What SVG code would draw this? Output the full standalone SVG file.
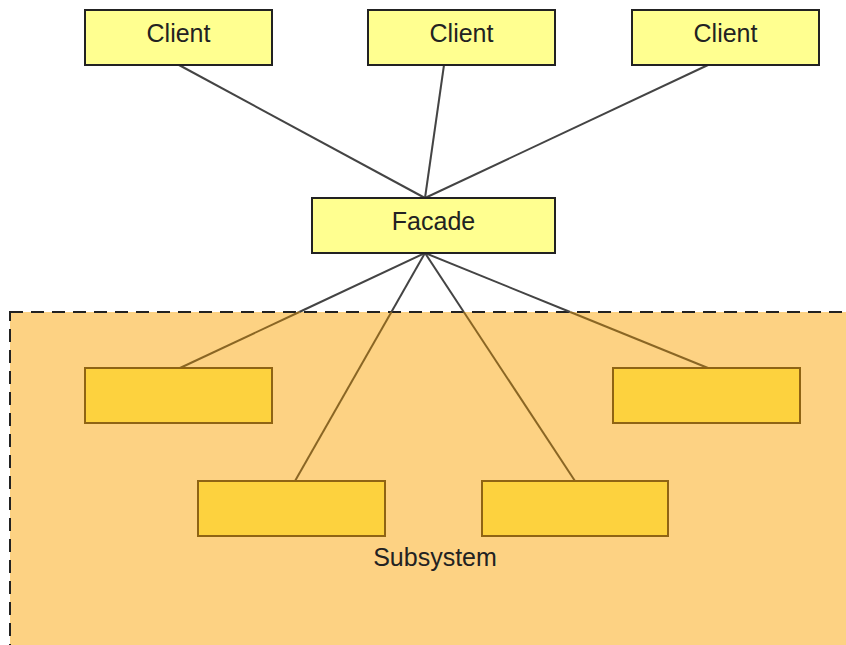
<svg xmlns="http://www.w3.org/2000/svg" width="846" height="645" viewBox="0 0 846 645">
<style>
.box{fill:#ffff90;stroke:#222;stroke-width:2}
.sub{fill:#fdd23e;stroke:#8f6414;stroke-width:2}
.lbl{font-family:"Liberation Sans",Arial,sans-serif;font-size:25px;fill:#222;text-anchor:middle}
.ln{stroke:#444;stroke-width:2;fill:none}
.lnin{stroke:#8a6624;stroke-width:2;fill:none}
</style>
<rect width="846" height="645" fill="#ffffff"/>
<g id="connectors-top">
<line class="ln" x1="179" y1="65" x2="425" y2="198"/>
<line class="ln" x1="444" y1="65" x2="425" y2="198"/>
<line class="ln" x1="708" y1="65" x2="425" y2="198"/>
</g>
<g id="subsystem">
<rect x="10" y="312" width="846" height="345" fill="#fdd283" stroke="#222" stroke-width="2" stroke-dasharray="13,8"/>
<text class="lbl" x="435" y="566">Subsystem</text>
</g>
<g id="connectors">
<line class="ln" x1="425" y1="253" x2="299.3" y2="312"/>
<line class="ln" x1="425" y1="253" x2="391.4" y2="312"/>
<line class="ln" x1="425" y1="253" x2="463.8" y2="312"/>
<line class="ln" x1="425" y1="253" x2="570.2" y2="312"/>
<line class="lnin" x1="299.3" y1="312" x2="180" y2="368"/>
<line class="lnin" x1="391.4" y1="312" x2="295" y2="481"/>
<line class="lnin" x1="463.8" y1="312" x2="575" y2="481"/>
<line class="lnin" x1="570.2" y1="312" x2="708" y2="368"/>
</g>
<g id="client1"><rect class="box" x="85" y="10" width="187" height="55"/><text class="lbl" x="178.5" y="42">Client</text></g>
<g id="client2"><rect class="box" x="368" y="10" width="187" height="55"/><text class="lbl" x="461.5" y="42">Client</text></g>
<g id="client3"><rect class="box" x="632" y="10" width="187" height="55"/><text class="lbl" x="725.5" y="42">Client</text></g>
<g id="facade"><rect class="box" x="312" y="198" width="243" height="55"/><text class="lbl" x="433.5" y="230">Facade</text></g>
<g id="sub1"><rect class="sub" x="85" y="368" width="187" height="55"/></g>
<g id="sub2"><rect class="sub" x="613" y="368" width="187" height="55"/></g>
<g id="sub3"><rect class="sub" x="198" y="481" width="187" height="55"/></g>
<g id="sub4"><rect class="sub" x="482" y="481" width="186" height="55"/></g>
</svg>
